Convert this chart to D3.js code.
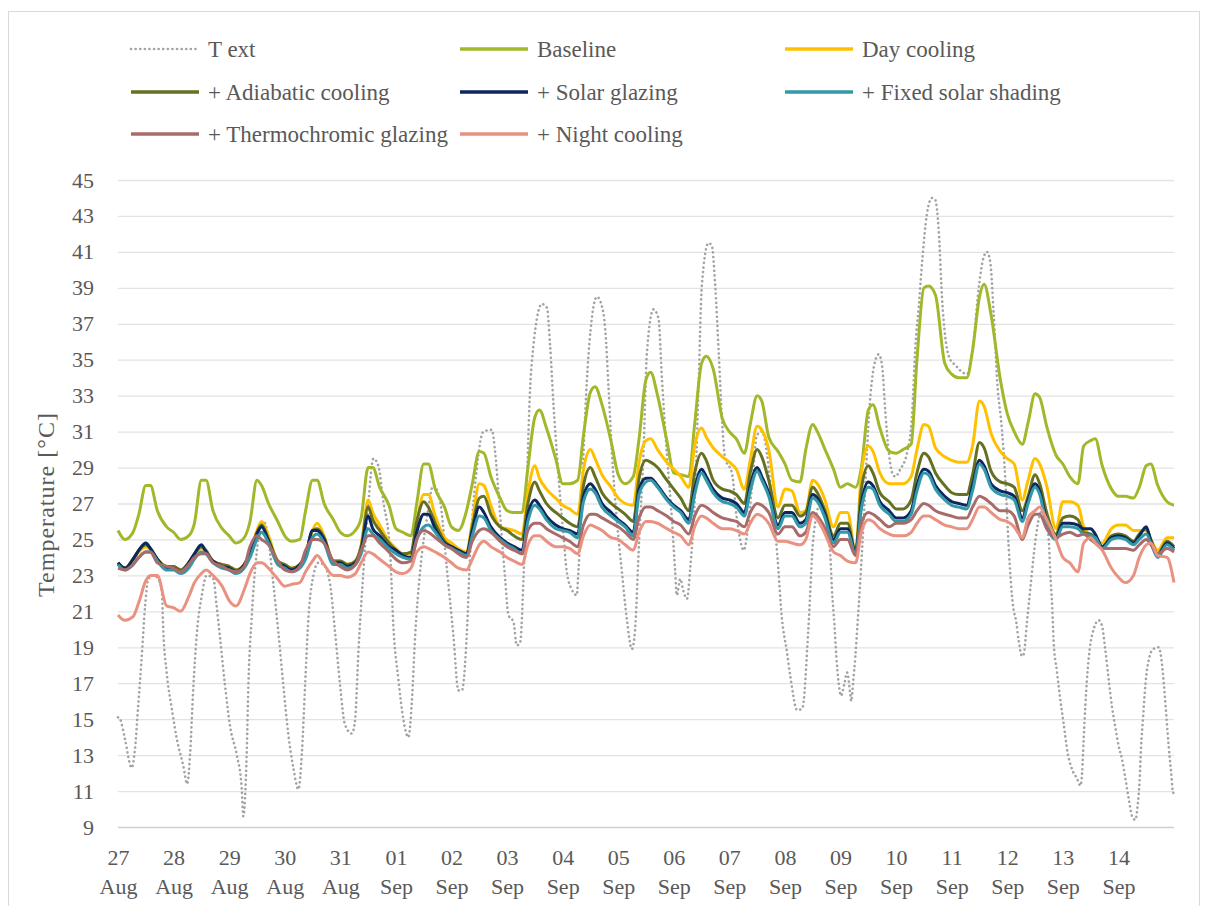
<!DOCTYPE html>
<html>
<head>
<meta charset="utf-8">
<script src="https://cdn.jsdelivr.net/npm/d3@7"></script>
<style>
  body { margin: 0; background: #fff; }
  svg { display: block; font-family: "Liberation Serif", "DejaVu Serif", serif; }
</style>
</head>
<body>
<svg id="chart" width="1206" height="906"></svg>
<script>
// ---------- DATA ----------
const dayLabels = ["27","28","29","30","31","01","02","03","04","05","06","07","08","09","10","11","12","13","14"];
const monthLabels = ["Aug","Aug","Aug","Aug","Aug","Sep","Sep","Sep","Sep","Sep","Sep","Sep","Sep","Sep","Sep","Sep","Sep","Sep","Sep"];
const yTicks = [9,11,13,15,17,19,21,23,25,27,29,31,33,35,37,39,41,43,45];
const yTitle = "Temperature [°C]";
// hours within each day at which the indoor series were read
const hoursOfDay = [0, 3, 6.5, 9, 12, 14, 17, 21];

const baseline = [
 25.5,25.0,25.4,26.4,28.0,28.0,26.6,25.7,
 25.4,25.0,25.2,25.9,28.3,28.3,26.6,25.6,
 25.2,24.8,25.1,26.0,28.3,28.0,27.0,26.0,
 25.2,24.9,25.0,26.6,28.3,28.3,27.0,26.1,
 25.4,25.2,25.5,26.2,29.0,29.0,27.9,26.9,
 25.6,25.4,25.2,27.0,29.2,29.2,27.8,26.8,
 25.7,25.5,26.6,28.1,29.9,29.8,28.5,27.3,
 26.6,26.5,26.5,29.0,31.8,32.2,31.2,29.5,
 28.1,28.1,28.3,30.8,33.2,33.5,32.5,30.4,
 28.6,28.1,28.5,30.6,33.9,34.3,33.0,30.5,
 28.7,28.6,28.5,31.4,34.8,35.2,34.5,31.7,
 31.0,30.6,29.8,31.4,33.0,32.7,30.7,29.9,
 29.2,28.3,28.2,30.0,31.4,31.0,30.1,28.9,
 27.9,28.1,27.9,29.0,32.2,32.5,31.2,29.9,
 29.8,30.0,30.3,35.0,39.0,39.1,38.6,34.8,
 34.2,34.0,34.0,35.5,38.5,39.2,37.5,33.9,
 32.0,31.0,30.3,31.5,33.1,32.9,31.3,29.7,
 29.2,28.5,28.1,30.2,30.5,30.6,29.1,27.8,
 27.4,27.4,27.3,27.9,29.1,29.2,28.0,27.1,
 26.9];

const dayCooling = [
 23.7,23.4,23.9,24.3,24.6,24.4,23.9,23.5,
 23.5,23.3,23.7,24.1,24.5,24.3,23.8,23.6,
 23.5,23.3,23.6,24.2,25.5,26.0,25.2,23.8,
 23.6,23.4,23.6,24.1,25.5,25.9,25.2,23.8,
 23.8,23.6,23.8,24.7,27.2,26.5,25.8,24.9,
 24.5,24.2,24.2,25.9,27.5,27.5,26.3,25.1,
 24.8,24.5,24.3,26.0,28.1,28.0,26.9,25.7,
 25.6,25.5,25.3,27.6,29.1,28.4,27.8,27.3,
 26.9,26.7,26.4,28.9,30.0,29.5,28.6,27.9,
 27.3,27.0,26.9,29.3,30.5,30.6,30.0,29.3,
 28.9,28.5,27.9,30.2,31.2,30.7,30.1,29.6,
 29.3,28.9,27.8,29.4,31.3,31.1,30.0,26.8,
 27.8,27.7,26.5,26.6,28.3,28.1,27.3,25.7,
 26.5,26.5,24.3,28.7,30.2,29.9,28.7,28.1,
 28.1,28.1,28.5,30.0,31.4,31.3,30.1,29.6,
 29.4,29.3,29.3,30.2,32.7,32.4,30.9,29.9,
 29.5,29.2,27.2,28.3,29.5,29.2,28.0,25.6,
 27.1,27.1,26.9,25.7,25.2,25.0,24.8,25.6,
 25.8,25.8,25.5,25.5,25.5,25.0,24.4,25.1,
 25.1];

const adiabatic = [
 23.7,23.4,23.9,24.4,24.7,24.5,23.9,23.5,
 23.5,23.3,23.7,24.2,24.6,24.4,23.8,23.6,
 23.5,23.3,23.6,24.2,25.4,25.8,25.0,23.8,
 23.6,23.4,23.6,24.1,25.5,25.6,25.1,23.8,
 23.8,23.6,23.8,24.6,26.8,26.1,25.5,24.8,
 24.4,24.2,24.3,26.0,27.1,26.8,25.9,24.9,
 24.6,24.4,24.2,25.7,27.3,27.4,26.4,25.7,
 25.5,25.2,25.0,27.0,28.2,27.7,27.0,26.5,
 26.2,25.9,25.7,28.0,29.0,28.5,27.6,27.0,
 26.7,26.4,26.0,28.4,29.4,29.3,29.0,28.3,
 27.8,27.3,26.6,28.7,29.8,29.4,28.3,27.8,
 27.7,27.5,27.0,28.7,30.0,29.6,28.3,26.2,
 26.9,26.9,26.3,26.5,27.9,27.6,26.7,25.2,
 25.9,25.9,24.3,27.8,29.1,28.7,27.6,27.1,
 26.7,26.7,27.2,28.7,29.8,29.6,28.7,28.0,
 27.6,27.5,27.5,28.6,30.4,30.1,28.8,28.2,
 28.1,27.9,26.6,27.4,28.6,28.1,26.5,25.3,
 26.2,26.3,26.1,25.4,25.3,25.1,24.5,25.2,
 25.3,25.2,24.9,25.3,25.6,25.0,24.2,24.9,
 24.6];

const solarGlazing = [
 23.7,23.4,23.9,24.4,24.8,24.5,23.9,23.4,
 23.4,23.2,23.7,24.2,24.7,24.3,23.8,23.5,
 23.4,23.2,23.6,24.2,25.3,25.7,24.9,23.7,
 23.5,23.3,23.6,24.1,25.5,25.5,25.0,23.7,
 23.7,23.5,23.7,24.4,26.3,25.6,25.2,24.6,
 24.4,24.1,24.0,25.4,26.4,26.4,25.6,24.8,
 24.6,24.4,24.2,25.5,26.8,26.5,25.7,25.1,
 24.8,24.6,24.4,26.4,27.2,26.9,26.3,25.8,
 25.6,25.5,25.3,27.4,28.1,27.8,27.0,26.5,
 26.1,25.8,25.4,27.8,28.4,28.4,28.0,27.3,
 26.9,26.6,26.1,27.8,28.9,28.5,27.8,27.3,
 27.2,27.0,26.5,28.0,29.0,28.5,27.6,25.8,
 26.5,26.5,25.9,26.1,27.5,27.3,26.5,25.0,
 25.6,25.6,24.3,27.0,28.2,28.0,27.1,26.6,
 26.2,26.2,26.6,28.0,28.9,28.8,28.0,27.4,
 27.1,27.0,26.9,28.0,29.4,29.1,28.1,27.7,
 27.6,27.4,26.2,27.2,28.1,27.7,26.0,25.1,
 25.9,25.9,25.8,25.6,25.6,25.3,24.6,25.1,
 25.2,25.1,24.8,25.2,25.7,24.9,24.1,24.8,
 24.5];

const fixedShading = [
 23.6,23.3,23.6,24.0,24.3,24.3,23.8,23.3,
 23.3,23.1,23.4,23.9,24.3,24.2,23.7,23.4,
 23.3,23.1,23.4,24.0,25.0,25.4,24.8,23.6,
 23.4,23.2,23.4,23.9,25.1,25.3,24.8,23.6,
 23.6,23.4,23.6,24.2,25.6,25.3,25.0,24.5,
 24.2,24.0,23.9,25.0,25.7,25.8,25.4,24.7,
 24.5,24.3,24.1,25.2,26.3,26.2,25.5,25.0,
 24.7,24.5,24.2,26.0,26.9,26.7,26.1,25.6,
 25.5,25.4,25.1,27.1,27.8,27.6,26.8,26.3,
 26.0,25.7,25.2,27.5,28.2,28.3,27.9,27.2,
 26.8,26.5,25.9,27.5,28.7,28.3,27.6,27.1,
 27.0,26.8,26.3,27.7,28.8,28.3,27.4,25.6,
 26.3,26.3,25.7,25.9,27.3,27.1,26.3,24.8,
 25.4,25.4,24.2,26.7,27.9,27.8,26.9,26.4,
 26.0,26.0,26.4,27.7,28.7,28.6,27.8,27.2,
 26.9,26.8,26.7,27.7,29.2,28.9,27.9,27.5,
 27.4,27.2,26.0,27.0,27.9,27.5,25.8,25.0,
 25.7,25.7,25.6,25.3,25.2,25.1,24.5,25.0,
 25.1,25.0,24.7,25.0,25.3,24.8,24.0,24.7,
 24.4];

const thermochromic = [
 23.4,23.3,23.6,24.0,24.3,24.3,23.7,23.5,
 23.4,23.2,23.6,24.0,24.2,24.2,23.7,23.5,
 23.3,23.2,23.5,24.6,25.2,25.0,24.7,23.8,
 23.3,23.2,23.5,24.4,25.0,25.0,24.8,23.8,
 23.5,23.3,23.6,24.4,25.2,25.2,24.8,24.3,
 23.9,23.7,23.8,25.0,25.5,25.4,25.1,24.7,
 24.5,24.2,24.0,24.9,25.5,25.6,25.4,24.9,
 24.6,24.4,24.2,25.5,25.9,25.9,25.6,25.3,
 25.1,24.9,24.6,25.8,26.4,26.4,26.2,25.9,
 25.7,25.4,25.0,26.2,26.8,26.8,26.6,26.3,
 26.0,25.8,25.3,26.3,26.9,26.8,26.5,26.2,
 26.1,26.0,25.7,26.5,27.0,26.9,26.5,25.3,
 25.7,25.7,25.2,25.4,26.5,26.3,25.7,24.6,
 25.0,25.0,24.1,25.9,26.5,26.4,26.1,25.7,
 25.9,25.9,26.1,26.6,27.0,26.9,26.6,26.4,
 26.3,26.2,26.2,26.8,27.4,27.3,27.0,26.6,
 26.6,26.3,25.0,25.8,26.4,26.4,25.6,25.1,
 25.3,25.4,25.2,25.3,25.0,24.8,24.5,24.5,
 24.5,24.5,24.4,24.7,25.0,24.7,24.2,24.5,
 24.3];

const nightCooling = [
 20.8,20.5,20.7,21.5,22.7,23.0,23.0,21.3,
 21.2,21.0,21.8,22.6,23.1,23.3,23.0,22.4,
 21.6,21.3,22.2,23.1,23.7,23.7,23.4,22.8,
 22.4,22.5,22.6,23.2,23.8,24.1,23.6,23.0,
 23.0,22.9,23.1,23.7,24.3,24.2,23.9,23.5,
 23.2,23.1,23.4,24.3,24.6,24.5,24.3,24.0,
 23.7,23.4,23.3,23.9,24.7,24.9,24.6,24.3,
 24.0,23.8,23.6,24.7,25.2,25.2,24.9,24.6,
 24.6,24.5,24.2,25.2,25.8,25.7,25.5,25.1,
 25.0,24.7,24.4,25.4,26.0,26.0,25.9,25.6,
 25.4,25.2,24.7,25.7,26.3,26.2,25.9,25.6,
 25.6,25.5,25.3,25.9,26.4,26.3,25.9,24.9,
 24.9,24.8,24.7,25.0,26.3,26.1,25.4,24.3,
 24.1,23.8,23.7,25.4,26.1,26.0,25.6,25.3,
 25.2,25.2,25.4,25.9,26.3,26.3,26.1,25.8,
 25.7,25.6,25.6,26.1,26.8,26.8,26.5,26.1,
 26.0,25.7,25.1,26.2,26.6,26.8,26.1,25.0,
 24.0,23.7,23.2,24.8,25.1,24.8,24.4,23.4,
 22.9,22.6,23.0,24.0,24.7,24.8,24.1,24.0,
 22.6];

// outdoor temperature: [hour since 27 Aug 00:00, °C]
const tExt = [
 [0,15.1],[0.9,15.0],[3.0,13.9],[5.9,12.3],[7.3,13.3],[8.8,15.9],[10.2,18.4],[11.7,21.3],[13.1,22.8],[15.2,23.0],
 [17.4,22.8],[18.9,22.1],[19.6,19.8],[21.0,17.6],[23.2,15.6],[25.4,13.9],[28.2,12.4],[29.9,11.4],[31.1,13.0],[32.5,16.7],
 [34.0,19.7],[36.2,21.9],[38.3,23.0],[41.2,22.8],[42.6,21.3],[44.1,19.5],[46.2,16.9],[48.4,14.6],[51.3,13.0],[53.4,11.2],
 [54.1,9.6],[55.6,13.2],[56.3,16.9],[57.7,20.6],[59.9,24.3],[62.8,26.0],[64.2,25.6],[67.1,22.5],[69.2,19.9],[71.4,16.9],
 [73.6,14.1],[75.7,12.3],[77.9,11.1],[79.4,13.1],[80.8,16.9],[82.2,20.6],[84.4,23.0],[86.5,23.7],[88.7,23.6],[91.6,22.5],
 [93.7,19.9],[95.9,16.9],[98.0,14.7],[101.0,14.2],[102.4,15.0],[103.8,18.7],[106.0,23.3],[108.1,27.0],[110.3,29.5],[112.4,29.1],
 [114.6,27.1],[117.5,24.3],[118.9,20.2],[121.1,17.2],[123.2,15.0],[125.4,14.0],[126.9,16.0],[128.3,19.6],[130.5,23.3],[133.3,26.1],
 [136.2,28.0],[139.1,27.1],[142.0,23.4],[144.8,19.7],[147.0,16.6],[148.5,16.6],[150.6,19.7],[152.1,24.3],[154.9,28.9],[157.8,31.0],
 [161.4,31.1],[162.9,29.8],[164.3,27.6],[165.7,25.2],[167.2,22.8],[168.6,20.8],[170.8,20.4],[172.2,19.1],[173.7,19.3],[175.1,22.8],
 [176.5,28.0],[178.0,33.5],[179.4,35.8],[180.9,37.3],[183.0,38.1],[185.2,37.9],[186.6,35.8],[188.0,32.6],[189.5,29.8],[190.9,27.4],
 [192.4,25.2],[193.8,23.2],[196.0,22.2],[198.1,21.9],[198.8,23.2],[199.6,25.2],[201.0,29.8],[202.5,33.9],[204.6,37.3],[206.8,38.5],
 [208.9,38.0],[210.4,36.7],[211.8,33.5],[213.3,29.8],[215.4,26.1],[217.6,23.2],[219.7,20.6],[221.9,18.9],[223.3,20.0],[224.8,24.3],
 [226.9,29.8],[228.4,35.4],[231.2,37.8],[233.4,37.3],[234.9,33.9],[237.0,29.8],[239.2,26.1],[240.6,23.2],[241.3,21.9],[242.8,22.8],
 [244.2,22.1],[245.7,21.7],[247.1,23.4],[249.3,28.0],[250.7,33.5],[252.1,39.1],[255.0,41.5],[256.5,41.3],[257.9,39.1],[259.4,35.4],
 [260.8,31.7],[262.2,29.5],[265.1,28.7],[267.3,26.1],[270.2,24.4],[271.6,25.2],[273.8,28.0],[275.9,30.8],[278.1,31.0],[280.2,29.8],
 [282.4,27.1],[284.6,24.3],[286.7,20.6],[288.9,18.7],[290.3,17.4],[293.3,15.5],[295.5,15.6],[298.1,20.0],[300.2,25.0],[303.3,27.0],
 [305.9,25.8],[307.6,24.1],[308.3,22.2],[309.3,20.4],[310.2,18.5],[311.2,17.0],[312.2,16.3],[313.7,17.0],[314.8,17.6],[316.3,16.3],
 [316.6,16.0],[317.4,17.0],[318.4,18.5],[319.4,20.4],[320.3,22.2],[321.3,24.4],[324.9,33.0],[326.4,34.6],[328.5,35.3],[330.0,34.6],
 [331.4,32.0],[332.9,29.8],[334.3,28.7],[335.7,28.5],[337.8,28.9],[340.7,29.8],[342.9,32.0],[344.3,35.7],[345.8,38.0],[347.2,40.4],
 [349.3,43.1],[351.5,44.0],[352.9,43.9],[354.4,42.2],[355.8,38.5],[357.2,36.3],[359.4,35.0],[361.6,34.7],[363.7,34.4],[366.6,34.2],
 [369.5,36.1],[371.6,38.9],[373.8,40.7],[375.2,41.0],[376.7,40.4],[378.1,37.6],[379.6,33.9],[381.7,31.1],[383.2,28.3],[384.6,24.6],
 [386.5,21.3],[387.9,20.4],[388.9,19.4],[390.4,18.5],[391.1,18.6],[392.5,20.4],[393.9,22.2],[395.4,24.1],[397.4,26.0],[399.1,26.6],
 [400.4,26.0],[401.9,25.0],[402.6,23.1],[403.4,21.3],[404.0,19.4],[405.5,17.6],[406.9,16.1],[408.3,14.8],[410.1,13.1],[412.0,12.2],
 [414.1,11.7],[415.6,11.3],[416.3,12.0],[417.0,13.9],[417.7,15.7],[418.4,17.2],[419.6,18.9],[421.3,20.0],[423.5,20.5],[424.9,20.2],
 [426.3,18.9],[427.8,17.2],[429.2,15.7],[430.6,14.6],[432.1,13.5],[433.5,12.8],[435.0,11.7],[436.4,10.6],[437.9,9.6],[439.3,9.4],
 [440.3,10.2],[441.2,11.7],[441.8,13.5],[442.7,15.2],[443.7,17.0],[445.1,18.3],[447.0,18.9],[449.4,19.0],[450.6,18.3],[451.6,17.0],
 [452.7,15.2],[453.7,13.5],[454.8,12.0],[455.6,10.9],[456,10.9]
];

const seriesNames = ["T ext","Baseline","Day cooling","+ Adiabatic cooling","+ Solar glazing","+ Fixed solar shading","+ Thermochromic glazing","+ Night cooling"];
const seriesColors = ["#a3a3a3","#a2b72a","#ffc000","#657120","#0c275e","#3399a9","#a86b6a","#ea9281"];

// ---------- CHART ----------
const totalHours = dayLabels.length * 24;
const sampleHours = dayLabels.flatMap((d, i) => hoursOfDay.map(h => i * 24 + h)).concat([totalHours]);

const svg = d3.select("#chart");
const textColor = "#595959";
const fontFam = "Liberation Serif, DejaVu Serif, serif";

svg.append("rect").attr("x", 8.5).attr("y", 11.5).attr("width", 1191).attr("height", 905)
  .attr("fill", "#fff").attr("stroke", "#d9d9d9").attr("stroke-width", 1);

const X0 = 118, X1 = 1174, Y0 = 827, Y1 = 180;
const x = d3.scaleLinear().domain([0, totalHours]).range([X0, X1]);
const y = d3.scaleLinear().domain([9, 45]).range([Y0, Y1]);

// y axis + gridlines
svg.append("g").attr("transform", `translate(${X0},0)`)
  .call(d3.axisLeft(y).tickValues(yTicks).tickSize(-(X1 - X0)).tickPadding(24).tickFormat(d => String(d)))
  .call(g => g.select(".domain").remove())
  .call(g => g.selectAll(".tick line")
      .attr("stroke", d => d === 9 ? "#d0d0d0" : "#e3e3e3")
      .attr("stroke-width", d => d === 9 ? 1.6 : 1.3))
  .call(g => g.selectAll(".tick text")
      .attr("fill", textColor).attr("font-size", 22).attr("font-family", fontFam));

// x axis (two-line labels)
const dayTicks = dayLabels.map((d, i) => i * 24);
svg.append("g").attr("transform", `translate(0,${Y0})`)
  .call(d3.axisBottom(x).tickValues(dayTicks).tickSize(0).tickFormat((d, i) => dayLabels[i]))
  .call(g => g.select(".domain").remove())
  .call(g => g.selectAll(".tick text").each(function(d, i) {
      const t = d3.select(this);
      t.text(null).attr("y", 0).attr("dy", null)
       .attr("fill", textColor).attr("font-size", 22).attr("font-family", fontFam);
      t.append("tspan").attr("x", 0).attr("y", 38).text(dayLabels[i]);
      t.append("tspan").attr("x", 0).attr("y", 67).text(monthLabels[i]);
  }));

// y title
svg.append("text")
  .attr("transform", "translate(54,505) rotate(-90)")
  .attr("text-anchor", "middle")
  .attr("fill", textColor).attr("font-size", 24).attr("font-family", fontFam)
  .attr("textLength", 184).attr("lengthAdjust", "spacing")
  .text(yTitle);

// lines
const plot = svg.append("g");
plot.append("path").datum(tExt)
  .attr("fill", "none").attr("stroke", seriesColors[0]).attr("stroke-width", 2.6)
  .attr("stroke-linecap", "round").attr("stroke-dasharray", "0.1 4.5")
  .attr("d", d3.line().x(d => x(d[0])).y(d => y(d[1])).curve(d3.curveMonotoneX));

const indoor = [baseline, dayCooling, adiabatic, solarGlazing, fixedShading, thermochromic, nightCooling];
const lineGen = d3.line().x((d, i) => x(sampleHours[i])).y(d => y(d)).curve(d3.curveMonotoneX);
indoor.forEach((vals, k) => {
  plot.append("path").datum(vals)
    .attr("fill", "none").attr("stroke", seriesColors[k + 1]).attr("stroke-width", 3)
    .attr("stroke-linejoin", "round").attr("d", lineGen);
});

// legend
const colX = [131, 460, 785];
const rowY = [49, 92, 134];
const legend = svg.append("g");
seriesNames.forEach((name, i) => {
  const cx = colX[i % 3], cy = rowY[Math.floor(i / 3)];
  const ln = legend.append("line").attr("x1", cx).attr("x2", cx + 68).attr("y1", cy).attr("y2", cy)
    .attr("stroke", seriesColors[i]);
  if (i === 0) ln.attr("stroke-width", 2.6).attr("stroke-linecap", "round").attr("stroke-dasharray", "0.1 4.5");
  else ln.attr("stroke-width", 3.5);
  legend.append("text").attr("x", cx + 77).attr("y", cy + 8)
    .attr("fill", textColor).attr("font-size", 23).attr("font-family", fontFam)
    .text(name);
});
</script>
</body>
</html>
